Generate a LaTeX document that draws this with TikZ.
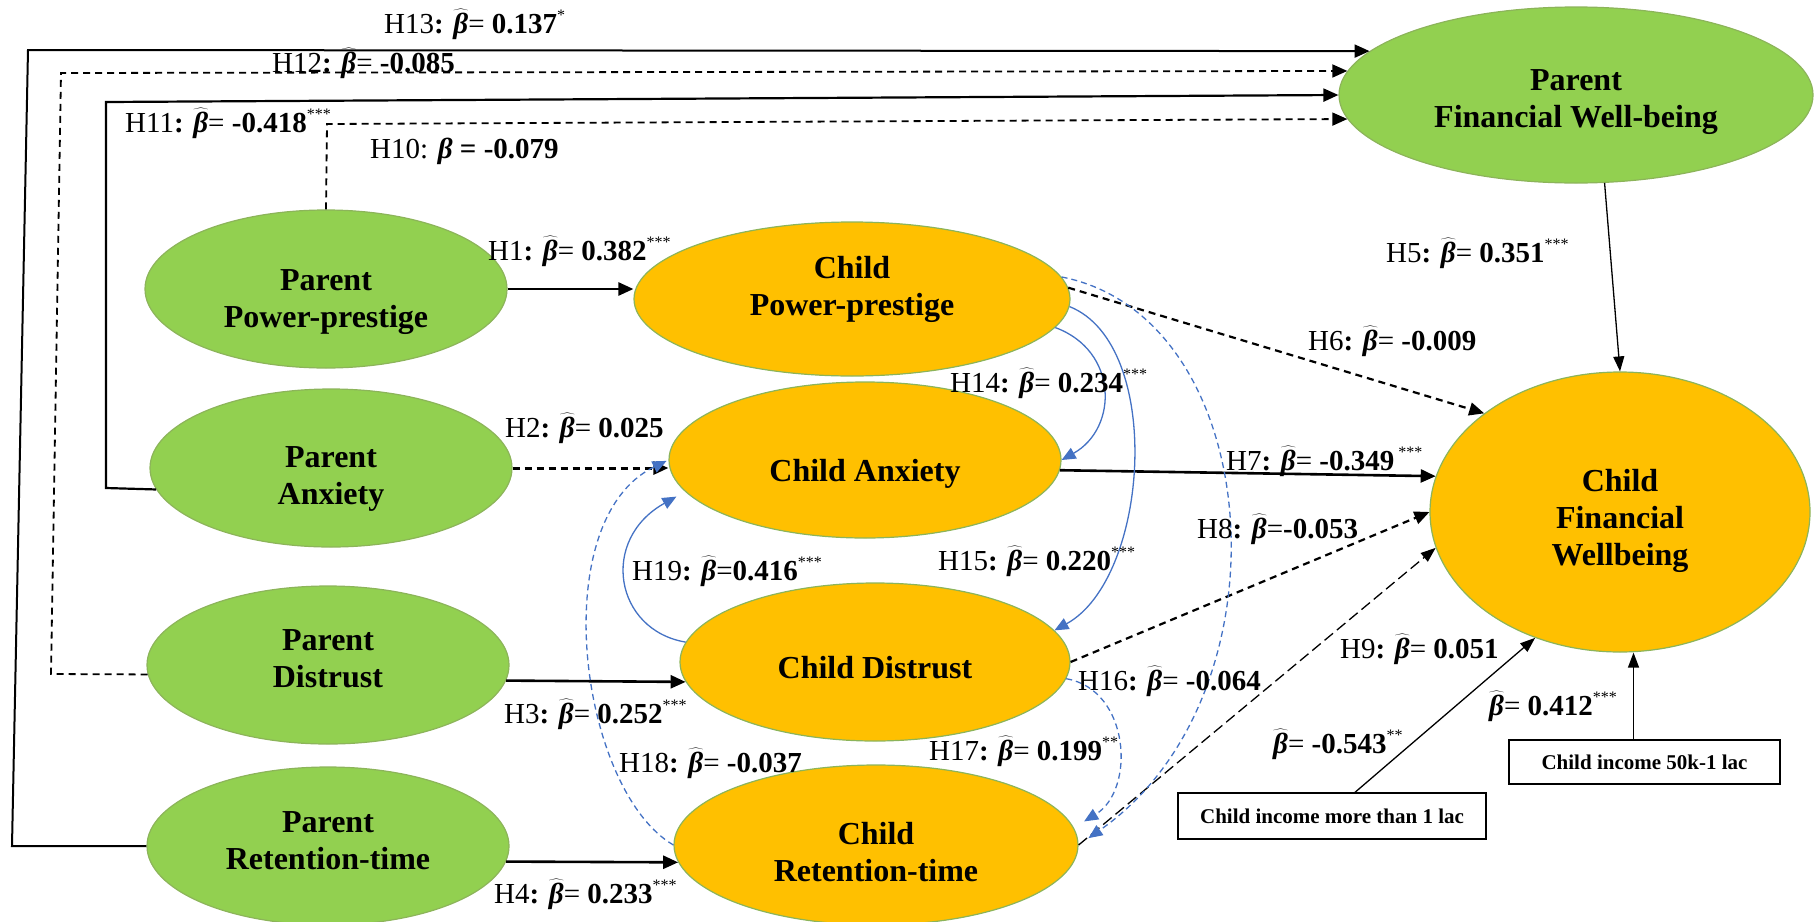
\documentclass[tikz,border=0pt]{standalone}
\usepackage{fontspec}
\setmainfont{Liberation Serif}
\usetikzlibrary{shapes.geometric,arrows.meta}
\definecolor{pgreen}{RGB}{146,208,80}
\definecolor{corange}{RGB}{255,192,0}
\definecolor{rim}{RGB}{140,180,90}
\definecolor{linkblue}{RGB}{68,114,196}

% estimated coefficient with a wide hat
\newcommand{\bhat}{$\widehat{\hbox{\bfseries\itshape β}}$}
% significance stars
\newcommand{\sig}[1]{\raisebox{0.42em}{\fontsize{16}{16}\selectfont #1}}
% hypothesis label: name, coefficient, stars
\newcommand{\hyp}[3]{#1\textbf{:} \bhat= \textbf{#2}\sig{#3}}
\newcommand{\hypn}[3]{#1\textbf{:} \bhat=\textbf{#2}\sig{#3}}

\begin{document}
\begin{tikzpicture}[x=1pt,y=-1pt,
  latent/.style={ellipse, draw=rim, line width=1.2pt, inner sep=0pt},
  ntext/.style={inner sep=0pt, align=center, font=\fontsize{32}{37}\selectfont\bfseries},
  parent/.style={latent, fill=pgreen, minimum width=362pt, minimum height=158pt},
  child/.style={latent, fill=corange},
  incomebox/.style={draw, line width=1.4pt, fill=white, inner sep=0pt,
    font=\fontsize{21}{24}\selectfont\bfseries},
  lab/.style={anchor=base west, inner sep=0pt, font=\fontsize{29}{33}\selectfont},
  solidlink/.style={line width=2.6pt, -{Triangle[length=15pt,width=13pt]}},
  dashlink/.style={line width=2.2pt, dash pattern=on 7pt off 5pt, -{Triangle[length=15pt,width=13pt]}},
  finelink/.style={line width=1.3pt, -{Triangle[length=15pt,width=11pt]}},
  finedash/.style={line width=1.3pt, dash pattern=on 11pt off 5pt, -{Triangle[length=15pt,width=11pt]}},
  bluelink/.style={linkblue, line width=1.3pt, -{Triangle[length=14pt,width=12pt]}},
  bluedash/.style={linkblue, line width=1.3pt, dash pattern=on 6pt off 4pt, -{Triangle[length=14pt,width=12pt]}}
]
\useasboundingbox (0,0) rectangle (1814,921);

% parent constructs
\node[parent, label={[ntext, yshift=-13pt]center:Parent\\Power-prestige}] (ppp) at (326,289) {};
\node[parent, label={[ntext, yshift=-11pt]center:Parent\\Anxiety}] (pa) at (331,468) {};
\node[parent, label={[ntext, yshift=6pt]center:Parent\\Distrust}] (pd) at (328,665) {};
\node[parent, label={[ntext, yshift=5pt]center:Parent\\Retention-time}] (prt) at (328,846) {};

% child constructs
\node[child, minimum width=436pt, minimum height=154pt,
  label={[ntext, yshift=10pt]center:Child\\Power-prestige}] (cpp) at (852,299) {};
\node[child, minimum width=392pt, minimum height=156pt,
  label={[ntext, yshift=-14pt]center:Child Anxiety}] (ca) at (865,460) {};
\node[child, minimum width=390pt, minimum height=158pt,
  label={[ntext, yshift=-6pt]center:Child Distrust}] (cd) at (875,662) {};
\node[child, minimum width=404pt, minimum height=160pt,
  label={[ntext, yshift=-7pt]center:Child\\Retention-time}] (crt) at (876,845) {};

% outcomes
\node[latent, fill=pgreen, minimum width=474pt, minimum height=176pt,
  label={[ntext, yshift=-7pt]center:Parent\\Financial Well-being}] (pfw) at (1576,95) {};
\node[child, minimum width=380pt, minimum height=280pt,
  label={[ntext, yshift=-9pt]center:Child\\Financial\\Wellbeing}] (cfw) at (1620,512) {};

% income controls
\node[incomebox, minimum width=308pt, minimum height=46pt] (box1) at (1332,816) {Child income more than 1 lac};
\node[incomebox, minimum width=271pt, minimum height=44pt] (box2) at (1644.5,762) {Child income 50k-1 lac};

% routes of the parent paths to parent financial well-being
\coordinate (c13a) at (12,846);
\coordinate (c13b) at (28,50);
\coordinate (c12a) at (51,674);
\coordinate (c12b) at (61,73);
\coordinate (c11a) at (106,488);
\coordinate (c11b) at (106,102);
\coordinate (c10)  at (327,124);
\draw[solidlink, line width=2pt] (prt.west) -- (c13a) -- (c13b) -- (pfw.168.7);
\draw[dashlink, line width=1.8pt] (pd.183) -- (c12a) -- (c12b) -- (pfw.174.5);
\draw[solidlink, line width=2.2pt] (pa.187) -- (c11a) -- (c11b) -- (pfw.west);
\draw[dashlink, line width=1.8pt] (ppp.north) -- (c10) -- (pfw.186.3);

% parent to child
\draw[solidlink] (ppp.east) -- (ppp.east -| cpp.west);
\draw[dashlink, line width=3pt] (pa.east) -- (pa.east -| ca.west);
\draw[solidlink] (pd.-5) -- (cd.186);
\draw[solidlink] (prt.-5) -- (crt.185);

% into child financial wellbeing
\draw[finelink] (pfw.-72) -- (cfw.north);
\draw[dashlink] (cpp.3) -- (cfw.144);
\draw[solidlink] (ca.-3) -- (cfw.169);
\draw[dashlink] (cd.east) -- (cfw.west);
\draw[finedash] (crt.east) -- (cfw.191);
\coordinate (b1top) at ([xshift=23pt]box1.north);
\coordinate (b2top) at ([xshift=-11pt]box2.north);
\draw[finelink] (b1top) -- (cfw.236.4);
\draw[finelink] (b2top) -- (b2top |- cfw.south);

% paths among child constructs
\draw[bluelink] (cpp.-8) .. controls +(63,23) and +(57,-32) .. (ca.east);
\draw[bluelink] (cpp.-2) .. controls +(95,38) and +(95,-52) .. (cd.10);
\draw[bluedash, shorten >=12pt] (cpp.6) .. controls +(205,40) and +(215,-150) .. (crt.east);
\draw[bluedash, shorten >=12pt] (cd.-5) .. controls +(64,11) and +(62,-38) .. (crt.5);
\draw[bluedash, shorten >=2pt] (crt.west) .. controls +(-94,-55) and +(-124,60) .. (ca.west);
\draw[bluelink, shorten >=10pt] (cd.174) .. controls +(-71,-12) and +(-86,48) .. (ca.190);

% coefficients
\node[lab] (l13) at (384,33)  {\hyp{H13}{0.137}{*}};
\node[lab] (l12) at (272,72)  {\hyp{H12}{-0.085}{}};
\node[lab] (l11) at (125,132) {\hyp{H11}{-0.418}{***}};
\node[lab] (l10) at (370,158) {H10: \textbf{\textit{β} = -0.079}};
\node[lab] (l1)  at (488,260) {\hyp{H1}{0.382}{***}};
\node[lab] (l2)  at (505,437) {\hyp{H2}{0.025}{}};
\node[lab] (l3)  at (504,723) {\hyp{H3}{0.252}{***}};
\node[lab] (l4)  at (494,903) {\hyp{H4}{0.233}{***}};
\node[lab] (l5)  at (1386,262) {\hyp{H5}{0.351}{***}};
\node[lab] (l6)  at (1308,350) {\hyp{H6}{-0.009}{}};
\node[lab] (l7)  at (1226,470) {\hyp{H7}{-0.349}{\ ***}};
\node[lab] (l8)  at (1197,538) {\hypn{H8}{-0.053}{}};
\node[lab] (l9)  at (1340,658) {\hyp{H9}{0.051}{}};
\node[lab] (l14) at (950,392) {\hyp{H14}{0.234}{***}};
\node[lab] (l15) at (938,570) {\hyp{H15}{0.220}{***}};
\node[lab] (l16) at (1078,690) {\hyp{H16}{-0.064}{}};
\node[lab] (l17) at (929,760) {\hyp{H17}{0.199}{**}};
\node[lab] (l18) at (619,772) {\hyp{H18}{-0.037}{}};
\node[lab] (l19) at (632,580) {\hypn{H19}{0.416}{***}};
\node[lab] (lb1) at (1273,753) {\bhat= \textbf{-0.543}\sig{**}};
\node[lab] (lb2) at (1489,715) {\bhat= \textbf{0.412}\sig{***}};
\end{tikzpicture}
\end{document}
